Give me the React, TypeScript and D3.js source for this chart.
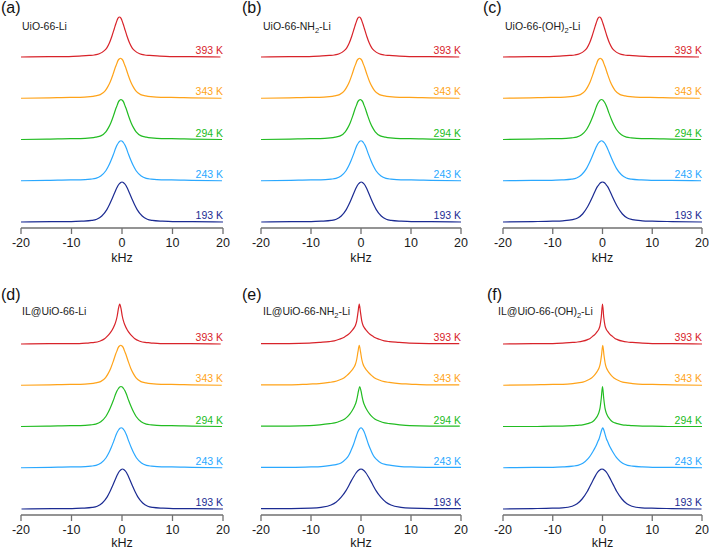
import React from "react";
import * as d3 from "d3";

// Shared frequency offsets (kHz) relative to each trace's peak position
const offsetsKHz = [-20, -14, -10, -8, -6, -5, -4, -3, -2.5, -2, -1.5, -1, -0.75, -0.5, -0.25, 0, 0.25, 0.5, 0.75, 1, 1.5, 2, 2.5, 3, 4, 5, 6, 8, 10, 14, 20];
const temperatures = ["393 K", "343 K", "294 K", "243 K", "193 K"];
const traceColors = ["#d8232a", "#ffa319", "#22bc22", "#2aa8ff", "#1b2b92"];
const panelLetters = ["(a)", "(b)", "(c)", "(d)", "(e)", "(f)"];
const panelTitles: [string, boolean][][] = [
  [["UiO-66-Li", false]],
  [["UiO-66-NH", false], ["2", true], ["-Li", false]],
  [["UiO-66-(OH)", false], ["2", true], ["-Li", false]],
  [["IL@UiO-66-Li", false]],
  [["IL@UiO-66-NH", false], ["2", true], ["-Li", false]],
  [["IL@UiO-66-(OH)", false], ["2", true], ["-Li", false]],
];
const xTickValues = [-20, -10, 0, 10, 20];

// Peak positions (kHz) per panel, traces ordered 393, 343, 294, 243, 193 K
const peakCentersKHz = [
  [-0.5, -0.3, -0.2, -0.2, 0],
  [-0.35, -0.3, -0.15, 0, 0.05],
  [-0.6, -0.45, -0.2, -0.2, 0],
  [-0.45, -0.25, -0.2, -0.15, 0.1],
  [-0.35, -0.35, -0.25, 0, 0],
  [0, 0.05, 0, 0.05, -0.1],
];

// Normalised intensities at the offsets above
const intensityA = [
  [0, .01, .01, .02, .04, .05, .08, .16, .23, .35, .52, .72, .82, .91, .98, 1, .98, .91, .82, .72, .52, .35, .23, .16, .08, .05, .04, .02, .01, .01, 0],
  [0, .01, .02, .02, .04, .06, .09, .19, .29, .42, .59, .78, .86, .94, .98, 1, .98, .94, .86, .78, .59, .42, .29, .19, .09, .06, .04, .02, .02, .01, 0],
  [0, .01, .02, .02, .04, .06, .09, .19, .29, .42, .59, .78, .86, .94, .98, 1, .98, .94, .86, .78, .59, .42, .29, .19, .09, .06, .04, .02, .02, .01, 0],
  [0, .01, .02, .02, .04, .06, .12, .25, .36, .5, .66, .83, .9, .95, .99, 1, .99, .95, .9, .83, .66, .5, .36, .25, .12, .06, .04, .02, .02, .01, 0],
  [0, .01, .01, .02, .04, .07, .15, .31, .43, .57, .72, .86, .92, .96, .99, 1, .99, .96, .92, .86, .72, .57, .43, .31, .15, .07, .04, .02, .01, .01, 0],
];
const intensityB = [
  [0, .01, .01, .02, .04, .05, .08, .16, .23, .35, .52, .72, .82, .91, .98, 1, .98, .91, .82, .72, .52, .35, .23, .16, .08, .05, .04, .02, .01, .01, 0],
  [0, .01, .02, .02, .04, .06, .09, .19, .29, .42, .59, .78, .86, .94, .98, 1, .98, .94, .86, .78, .59, .42, .29, .19, .09, .06, .04, .02, .02, .01, 0],
  [0, .01, .02, .02, .04, .06, .09, .19, .29, .42, .59, .78, .86, .94, .98, 1, .98, .94, .86, .78, .59, .42, .29, .19, .09, .06, .04, .02, .02, .01, 0],
  [0, .01, .02, .02, .04, .06, .12, .25, .36, .5, .66, .83, .9, .95, .99, 1, .99, .95, .9, .83, .66, .5, .36, .25, .12, .06, .04, .02, .02, .01, 0],
  [0, .01, .01, .02, .04, .07, .15, .31, .43, .57, .72, .86, .92, .96, .99, 1, .99, .96, .92, .86, .72, .57, .43, .31, .15, .07, .04, .02, .01, .01, 0],
];
const intensityC = [
  [0, .01, .01, .02, .04, .05, .08, .16, .23, .35, .52, .72, .82, .91, .98, 1, .98, .91, .82, .72, .52, .35, .23, .16, .08, .05, .04, .02, .01, .01, 0],
  [0, .01, .02, .02, .04, .06, .09, .19, .29, .42, .59, .78, .86, .94, .98, 1, .98, .94, .86, .78, .59, .42, .29, .19, .09, .06, .04, .02, .02, .01, 0],
  [0, .01, .02, .02, .04, .06, .12, .25, .36, .5, .66, .83, .9, .95, .99, 1, .99, .95, .9, .83, .66, .5, .36, .25, .12, .06, .04, .02, .02, .01, 0],
  [0, .01, .01, .02, .04, .07, .15, .31, .43, .57, .72, .86, .92, .96, .99, 1, .99, .96, .92, .86, .72, .57, .43, .31, .15, .07, .04, .02, .01, .01, 0],
  [0, .01, .02, .03, .06, .1, .2, .38, .5, .63, .77, .89, .93, .97, .99, 1, .99, .97, .93, .89, .77, .63, .5, .38, .2, .1, .06, .03, .02, .01, 0],
];
const intensityD = [
  [0, .01, .01, .01, .03, .04, .07, .13, .19, .26, .35, .48, .57, .7, .89, 1, .89, .7, .57, .48, .35, .26, .19, .13, .07, .04, .03, .01, .01, .01, 0],
  [0, .01, .02, .02, .04, .06, .09, .19, .29, .42, .59, .78, .86, .94, .98, 1, .98, .94, .86, .78, .59, .42, .29, .19, .09, .06, .04, .02, .02, .01, 0],
  [0, .01, .02, .02, .04, .06, .12, .25, .36, .5, .66, .83, .9, .95, .99, 1, .99, .95, .9, .83, .66, .5, .36, .25, .12, .06, .04, .02, .02, .01, 0],
  [0, .01, .02, .02, .04, .06, .12, .25, .36, .5, .66, .83, .9, .95, .99, 1, .99, .95, .9, .83, .66, .5, .36, .25, .12, .06, .04, .02, .02, .01, 0],
  [0, .01, .01, .02, .04, .07, .15, .31, .43, .57, .72, .86, .92, .96, .99, 1, .99, .96, .92, .86, .72, .57, .43, .31, .15, .07, .04, .02, .01, .01, 0],
];
const intensityE = [
  [.01, .01, .02, .04, .06, .08, .12, .17, .21, .26, .33, .41, .47, .58, .79, 1, .79, .58, .47, .41, .33, .26, .21, .17, .12, .08, .06, .04, .02, .01, .01],
  [.01, .01, .03, .04, .07, .09, .13, .19, .24, .3, .37, .46, .53, .65, .84, 1, .84, .65, .53, .46, .37, .3, .24, .19, .13, .09, .07, .04, .03, .01, .01],
  [.01, .01, .02, .04, .07, .09, .13, .19, .24, .31, .4, .52, .6, .73, .89, 1, .89, .73, .6, .52, .4, .31, .24, .19, .13, .09, .07, .04, .02, .01, .01],
  [.01, .01, .02, .03, .06, .08, .12, .22, .3, .43, .58, .77, .86, .93, .98, 1, .98, .93, .86, .77, .58, .43, .3, .22, .12, .08, .06, .03, .02, .01, .01],
  [.01, .01, .02, .04, .1, .17, .29, .46, .57, .69, .8, .9, .94, .97, .99, 1, .99, .97, .94, .9, .8, .69, .57, .46, .29, .17, .1, .04, .02, .01, .01],
];
const intensityF = [
  [0, .01, .01, .02, .04, .05, .07, .11, .14, .19, .24, .32, .37, .46, .67, 1, .67, .46, .37, .32, .24, .19, .14, .11, .07, .05, .04, .02, .01, .01, 0],
  [0, .01, .02, .02, .04, .06, .08, .13, .16, .21, .28, .37, .43, .54, .75, 1, .75, .54, .43, .37, .28, .21, .16, .13, .08, .06, .04, .02, .02, .01, 0],
  [0, 0, .01, .01, .02, .03, .04, .07, .09, .12, .18, .27, .34, .46, .7, 1, .7, .46, .34, .27, .18, .12, .09, .07, .04, .03, .02, .01, .01, 0, 0],
  [0, .01, .01, .02, .04, .06, .11, .22, .3, .4, .51, .65, .72, .82, .93, 1, .93, .82, .72, .65, .51, .4, .3, .22, .11, .06, .04, .02, .01, .01, 0],
  [0, .01, .02, .03, .07, .13, .25, .43, .55, .67, .79, .9, .94, .97, .99, 1, .99, .97, .94, .9, .79, .67, .55, .43, .25, .13, .07, .03, .02, .01, 0],
];

const panelData = [intensityA, intensityB, intensityC, intensityD, intensityE, intensityF];

const W = 709;
const H = 548;
const colX0 = [21, 261, 503];
const colX1 = [223, 461, 702];
const rowDY = [0, 287];
const letterX = [1, 242, 483, 1, 242, 487];
const titleX = [22, 263, 505, 22, 263, 498];
const titleY = [30, 30, 30, 315, 315, 315];
const unitY = [261.5, 546.5];
const FONT = "Arial, 'Liberation Sans', Helvetica, sans-serif";

export default function App() {
  return (
    <svg
      width={W}
      height={H}
      style={{ position: "absolute", left: 0, top: 0, background: "#fff" }}
      fontFamily={FONT}
    >
      <rect width={W} height={H} fill="#fff" />
      {panelData.map((rows, p) => {
        const col = p % 3;
        const row = Math.floor(p / 3);
        const dy = rowDY[row];
        const x = d3.scaleLinear().domain([-20, 20]).range([colX0[col], colX1[col]]);
        const base = d3.scaleLinear().domain([0, 4]).range([57 + dy, 222 + dy]);
        const axisY = 228 + dy;
        return (
          <g key={p}>
            <text x={letterX[p]} y={13 + dy} fontSize={16} fill="#111">
              {panelLetters[p]}
            </text>
            <text x={titleX[p]} y={titleY[p]} fontSize={10.5} fill="#222">
              {panelTitles[p].map(([t, sub], k) => {
                const prevSub = k > 0 && panelTitles[p][k - 1][1];
                return (
                  <tspan key={k} fontSize={sub ? 7.5 : 10.5} dy={sub ? 3 : prevSub ? -3 : 0}>
                    {t}
                  </tspan>
                );
              })}
            </text>
            {rows.map((vals, i) => {
              const b = base(i);
              const y = d3.scaleLinear().domain([0, 1]).range([b, b - 40]);
              const c = peakCentersKHz[p][i];
              const pts: [number, number][] = offsetsKHz.map((o, k) => [
                Math.max(-20, Math.min(20, c + o)),
                vals[k],
              ]);
              const path = d3
                .line<[number, number]>()
                .x((d) => x(d[0]))
                .y((d) => y(d[1]))
                .curve(d3.curveMonotoneX)(pts);
              return (
                <g key={i}>
                  <path d={path || ""} fill="none" stroke={traceColors[i]} strokeWidth={1.2} />
                  <text x={x(20)} y={b - 3} textAnchor="end" fontSize={10.5} fill={traceColors[i]}>
                    {temperatures[i]}
                  </text>
                </g>
              );
            })}
            <line x1={x(-20)} x2={x(20)} y1={axisY} y2={axisY} stroke="#707070" strokeWidth={1.3} />
            {xTickValues.map((t) => (
              <g key={t}>
                <line x1={x(t)} x2={x(t)} y1={axisY} y2={axisY + 6} stroke="#707070" strokeWidth={1.3} />
                <text x={x(t)} y={246.5 + dy} textAnchor="middle" fontSize={12.5} fill="#1a1a1a">
                  {t}
                </text>
              </g>
            ))}
            <text x={x(0)} y={unitY[row]} textAnchor="middle" fontSize={12.5} fill="#1a1a1a">
              kHz
            </text>
          </g>
        );
      })}
    </svg>
  );
}
